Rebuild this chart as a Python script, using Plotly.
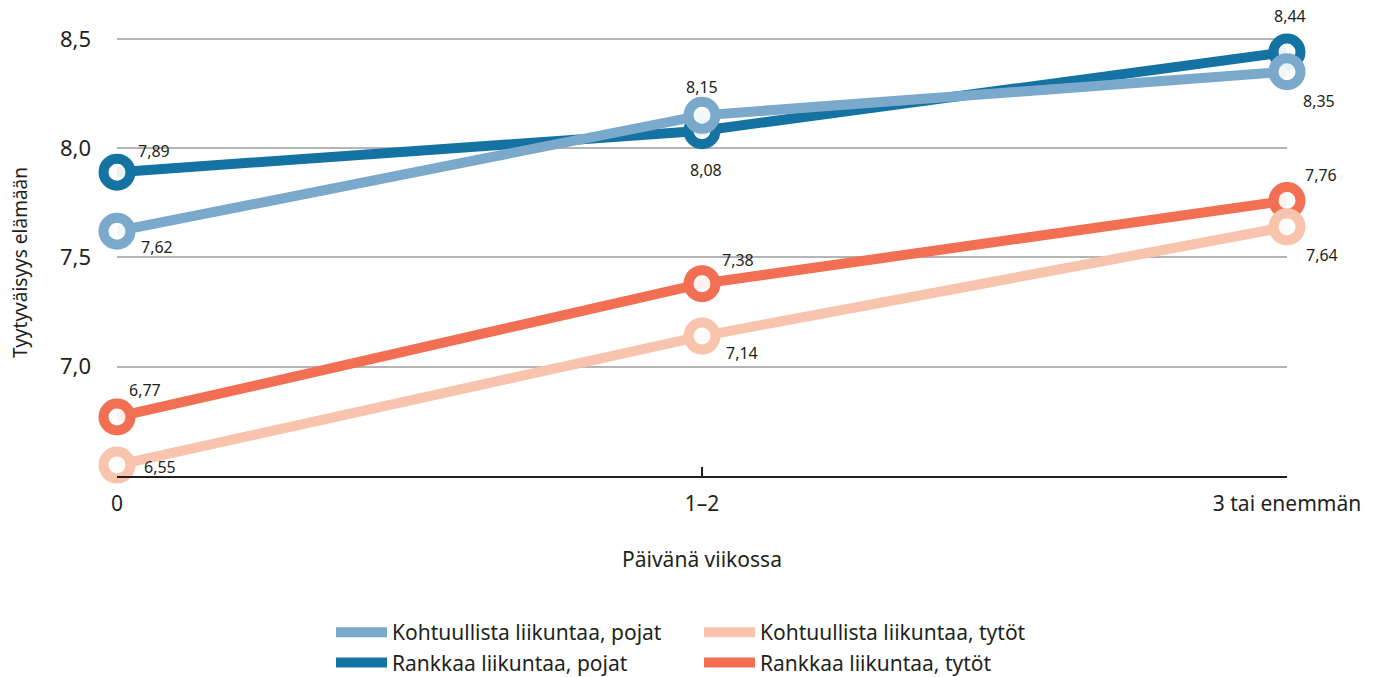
import plotly.graph_objects as go

# ---- data ----
categories = ["0", "1–2", "3 tai enemmän"]
kohtuullista_pojat = [7.62, 8.15, 8.35]
rankkaa_pojat = [7.89, 8.08, 8.44]
kohtuullista_tytot = [6.55, 7.14, 7.64]
rankkaa_tytot = [6.77, 7.38, 7.76]
y_ticks = [7.0, 7.5, 8.0, 8.5]

FONT = "Noto Sans"
TXT = "#231f20"
W, H = 1381, 677

series = [
    # name, values, colour, legend, legend rank, label offsets (dx, dy px)
    ("Rankkaa liikuntaa, pojat", rankkaa_pojat, "#1473a2", "legend", 2, [(37, -21), (4, 39), (3, -36)]),
    ("Rankkaa liikuntaa, tytöt", rankkaa_tytot, "#f26f53", "legend2", 2, [(28, -27), (36, -24), (34, -26)]),
    ("Kohtuullista liikuntaa, pojat", kohtuullista_pojat, "#7ba9cb", "legend", 1, [(40, 16), (0, -28), (32, 29)]),
    ("Kohtuullista liikuntaa, tytöt", kohtuullista_tytot, "#f9c4ad", "legend2", 1, [(43, 2), (40, 17), (35, 28)]),
]

fig = go.Figure()
annotations = []
for name, vals, col, leg, rank, offs in series:
    fig.add_trace(go.Scatter(
        x=categories, y=vals, mode="lines+markers", name=name,
        line=dict(color=col, width=10),
        marker=dict(size=27, color="rgba(255,255,255,0.9)", line=dict(color=col, width=10)),
        cliponaxis=False, showlegend=False, hoverinfo="x+y",
    ))
    for c, v, (dx, dy) in zip(categories, vals, offs):
        annotations.append(dict(
            x=c, y=v, xref="x", yref="y", text=f"{v:.2f}".replace(".", ","),
            showarrow=False, xshift=dx, yshift=-dy,
            font=dict(family=FONT, size=16, color=TXT),
        ))

# legend entries (rectangular swatches)
for name, vals, col, leg, rank, offs in series:
    fig.add_trace(go.Scatter(
        x=[None], y=[None], mode="lines", name=name, legend=leg,
        line=dict(color=col, width=13), legendrank=rank, showlegend=True,
    ))

# y-axis title as rotated text
annotations.append(dict(
    text="Tyytyväisyys elämään", textangle=-90, showarrow=False,
    xref="paper", yref="paper", x=-97 / 1170, y=(476 - 263) / 459,
    xanchor="center", yanchor="middle",
    font=dict(family=FONT, size=19, color=TXT),
))

leg_common = dict(
    orientation="v", xref="container", yref="container", xanchor="left",
    y=1 - 612 / H, yanchor="top", font=dict(family=FONT, size=21, color=TXT),
    itemwidth=51, traceorder="normal", bgcolor="rgba(0,0,0,0)",
)

fig.update_layout(
    width=W, height=H,
    margin=dict(l=117, r=94, t=17, b=201, autoexpand=False),
    paper_bgcolor="white", plot_bgcolor="white",
    separators=", ",
    font=dict(family=FONT, color=TXT),
    annotations=annotations,
    legend=dict(x=331 / W, **leg_common),
    legend2=dict(x=699 / W, **leg_common),
    xaxis=dict(
        type="category", range=[0, 2],
        showgrid=False, showline=True, linecolor=TXT, linewidth=2,
        ticks="inside", ticklen=9, tickwidth=2, tickcolor=TXT,
        ticklabelstandoff=8,
        tickfont=dict(family=FONT, size=21, color=TXT),
        title=dict(text="Päivänä viikossa", font=dict(family=FONT, size=21, color=TXT), standoff=36),
        zeroline=False,
    ),
    yaxis=dict(
        range=[6.5, 8.6], tickvals=y_ticks, tickformat=".1f",
        showgrid=True, gridcolor="#b5b5b5", gridwidth=1.5,
        showline=False, zeroline=False, ticks="",
        ticklabelstandoff=25,
        tickfont=dict(family=FONT, size=22, color=TXT),
    ),
)

fig.write_html(
    "out.html",
    config={"displayModeBar": False},
    post_script="document.body.style.margin='0px';",
)
